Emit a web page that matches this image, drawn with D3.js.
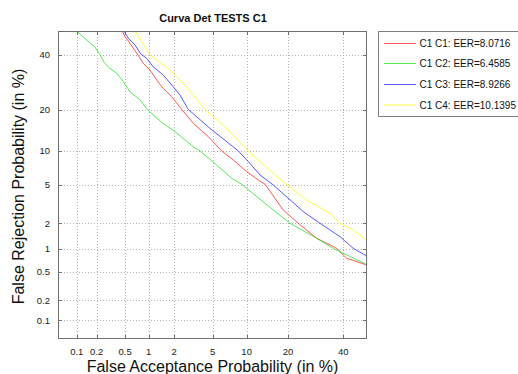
<!DOCTYPE html>
<html>
<head>
<meta charset="utf-8">
<script src="https://cdn.jsdelivr.net/npm/d3@7"></script>
<style>
  html, body { margin: 0; padding: 0; background: #fff; }
  svg { display: block; font-family: "Liberation Sans", Arial, Helvetica, sans-serif; }
</style>
</head>
<body>
<svg id="chart" width="518" height="374"></svg>
<script>
// ---------------- DATA ----------------
const title = "Curva Det TESTS C1";
const xLabel = "False Acceptance Probability (in %)";
const yLabel = "False Rejection Probability (in %)";
const tickValues = [0.1, 0.2, 0.5, 1, 2, 5, 10, 20, 40];
const tickLabels = ["0.1", "0.2", "0.5", "1", "2", "5", "10", "20", "40"];
const axisLimits = [0.05, 50];

const seriesNames = ["C1 C1: EER=8.0716", "C1 C2: EER=6.4585", "C1 C3: EER=8.9266", "C1 C4: EER=10.1395"];
const seriesColors = ["#ff2020", "#20e020", "#2020ff", "#ffff00"];

// [FA %, FR %]
const c1c1 = [[0.459,50],[0.498,47.6],[0.581,44.8],[0.722,40.3],[0.861,36.5],[1.04,33.85],[1.26,30.0],[1.50,27.0],
  [1.88,24.1],[2.42,20.1],[3.22,16.2],[4.55,12.95],[6.09,10.0],[7.73,8.41],[10.01,6.64],[12.35,5.57],[13.9,5.07],
  [18.6,2.79],[23.2,2.0],[29.6,1.34],[37.4,1.01],[41.4,0.76],[49.9,0.62]];
const c1c2 = [[0.10,50],[0.132,46.9],[0.187,43.3],[0.22,40.3],[0.261,36.5],[0.31,34.5],[0.385,32.6],[0.473,29.4],
  [0.581,25.8],[0.782,23.1],[0.966,20.1],[1.14,18.5],[1.44,16.47],[2.05,14.1],[3.22,10.82],[3.77,10.0],[5.47,7.61],
  [7.48,5.78],[9.11,5.07],[15.9,2.79],[20.6,2.0],[29.6,1.34],[36.0,1.01],[42.8,0.80],[49.9,0.63]];
const c1c3 = [[0.483,50],[0.551,46.9],[0.675,44.05],[0.798,40.3],[0.949,38.5],[1.14,35.1],[1.50,31.9],[1.88,28.2],
  [2.32,24.7],[2.85,20.1],[4.73,14.9],[8.53,10.0],[10.6,7.88],[12.73,6.2],[15.9,5.0],[24.9,2.68],[30.8,2.0],
  [38.7,1.40],[44.2,1.01],[49.9,0.81]];
const c1c4 = [[0.675,50],[0.822,45.5],[1.02,40.3],[1.26,37.8],[1.72,34.5],[2.14,31.3],[2.74,27.6],[4.23,20.1],
  [6.76,14.9],[10.3,10.0],[12.73,8.13],[18.6,5.37],[26.0,3.55],[34.7,2.57],[38.7,2.0],[44.2,1.68],[49.9,1.27]];
const seriesData = [c1c1, c1c2, c1c3, c1c4];

// ---------------- HELPERS ----------------
// inverse standard normal CDF (Acklam)
function probit(p) {
  const a = [-3.969683028665376e+01, 2.209460984245205e+02, -2.759285104469687e+02, 1.383577518672690e+02, -3.066479806614716e+01, 2.506628277459239e+00];
  const b = [-5.447609879822406e+01, 1.615858368580409e+02, -1.556989798598866e+02, 6.680131188771972e+01, -1.328068155288572e+01];
  const c = [-7.784894002430293e-03, -3.223964580411365e-01, -2.400758277161838e+00, -2.549671010228694e+00, 4.374664141464968e+00, 2.938163982698783e+00];
  const d = [7.784695709041462e-03, 3.224671290700398e-01, 2.445134137142996e+00, 3.754408661907416e+00];
  const plow = 0.02425, phigh = 1 - plow;
  let q, r;
  if (p < plow) {
    q = Math.sqrt(-2 * Math.log(p));
    return (((((c[0]*q+c[1])*q+c[2])*q+c[3])*q+c[4])*q+c[5]) / ((((d[0]*q+d[1])*q+d[2])*q+d[3])*q+1);
  } else if (p <= phigh) {
    q = p - 0.5; r = q*q;
    return (((((a[0]*r+a[1])*r+a[2])*r+a[3])*r+a[4])*r+a[5])*q / (((((b[0]*r+b[1])*r+b[2])*r+b[3])*r+b[4])*r+1);
  } else {
    q = Math.sqrt(-2 * Math.log(1 - p));
    return -(((((c[0]*q+c[1])*q+c[2])*q+c[3])*q+c[4])*q+c[5]) / ((((d[0]*q+d[1])*q+d[2])*q+d[3])*q+1);
  }
}
const pz = v => probit(v / 100);

// ---------------- LAYOUT ----------------
const L = 58, R = 367, T = 31, B = 339;
const xs = d3.scaleLinear().domain([pz(axisLimits[0]), pz(axisLimits[1])]).range([L, R]);
const ys = d3.scaleLinear().domain([pz(axisLimits[0]), pz(axisLimits[1])]).range([B, T]);
const X = v => xs(pz(v));
const Y = v => ys(pz(v));

const svg = d3.select("#chart");

// grid
const grid = svg.append("g").attr("stroke", "#b4b4b4").attr("stroke-width", 1).attr("stroke-dasharray", "1,2");
grid.selectAll("line.vx").data(tickValues).join("line")
  .attr("x1", d => Math.round(X(d)) + 0.5).attr("x2", d => Math.round(X(d)) + 0.5)
  .attr("y1", T).attr("y2", B);
grid.selectAll("line.hy").data(tickValues).join("line")
  .attr("x1", L).attr("x2", R)
  .attr("y1", d => Math.round(Y(d)) + 0.5).attr("y2", d => Math.round(Y(d)) + 0.5);

// curves
svg.append("clipPath").attr("id", "clip").append("rect")
  .attr("x", L).attr("y", T).attr("width", R - L).attr("height", B - T);
const line = d3.line().x(d => X(d[0])).y(d => Y(d[1]));
svg.append("g").attr("clip-path", "url(#clip)")
  .selectAll("path").data(seriesData).join("path")
  .attr("d", line).attr("fill", "none")
  .attr("stroke", (d, i) => seriesColors[i]).attr("stroke-width", 1).attr("stroke-opacity", 0.75);

// box + inward ticks
const ax = svg.append("g").attr("stroke", "#707070").attr("stroke-width", 1).attr("fill", "none");
ax.append("rect").attr("x", L + 0.5).attr("y", T + 0.5).attr("width", R - L - 1).attr("height", B - T - 1);
const tl = 4;
tickValues.forEach(v => {
  const xp = Math.round(X(v)) + 0.5, yp = Math.round(Y(v)) + 0.5;
  ax.append("line").attr("x1", xp).attr("x2", xp).attr("y1", B).attr("y2", B - tl);
  ax.append("line").attr("x1", xp).attr("x2", xp).attr("y1", T).attr("y2", T + tl);
  ax.append("line").attr("x1", L).attr("x2", L + tl).attr("y1", yp).attr("y2", yp);
  ax.append("line").attr("x1", R).attr("x2", R - tl).attr("y1", yp).attr("y2", yp);
});

// tick labels
svg.append("g").selectAll("text").data(tickValues).join("text")
  .attr("x", d => X(d)).attr("y", 355)
  .attr("text-anchor", "middle").attr("font-size", 9.5).attr("fill", "#222")
  .text((d, i) => tickLabels[i]);
svg.append("g").selectAll("text").data(tickValues).join("text")
  .attr("x", 50).attr("y", d => Y(d) + 3.3)
  .attr("text-anchor", "end").attr("font-size", 9.5).attr("fill", "#222")
  .text((d, i) => tickLabels[i]);

// title & axis labels
svg.append("text").attr("x", 213).attr("y", 21.5).attr("text-anchor", "middle")
  .attr("font-size", 11).attr("font-weight", "bold").attr("fill", "#111").text(title);
svg.append("text").attr("x", 212.5).attr("y", 372).attr("text-anchor", "middle")
  .attr("font-size", 16).attr("fill", "#111").text(xLabel);
svg.append("text").attr("transform", "translate(24,186.5) rotate(-90)").attr("text-anchor", "middle")
  .attr("font-size", 16).attr("fill", "#111").text(yLabel);

// legend
const lg = svg.append("g");
lg.append("rect").attr("x", 378.5).attr("y", 31.5).attr("width", 160).attr("height", 85)
  .attr("fill", "#fff").attr("stroke", "#808080").attr("stroke-width", 1);
const ly = [43.5, 63.5, 84.5, 105];
seriesNames.forEach((n, i) => {
  lg.append("line").attr("x1", 384).attr("x2", 416).attr("y1", ly[i]).attr("y2", ly[i])
    .attr("stroke", seriesColors[i]).attr("stroke-width", 1).attr("stroke-opacity", 0.75);
  lg.append("text").attr("x", 419.5).attr("y", ly[i] + 3.5).attr("font-size", 10).attr("fill", "#111").text(n);
});
</script>
</body>
</html>
